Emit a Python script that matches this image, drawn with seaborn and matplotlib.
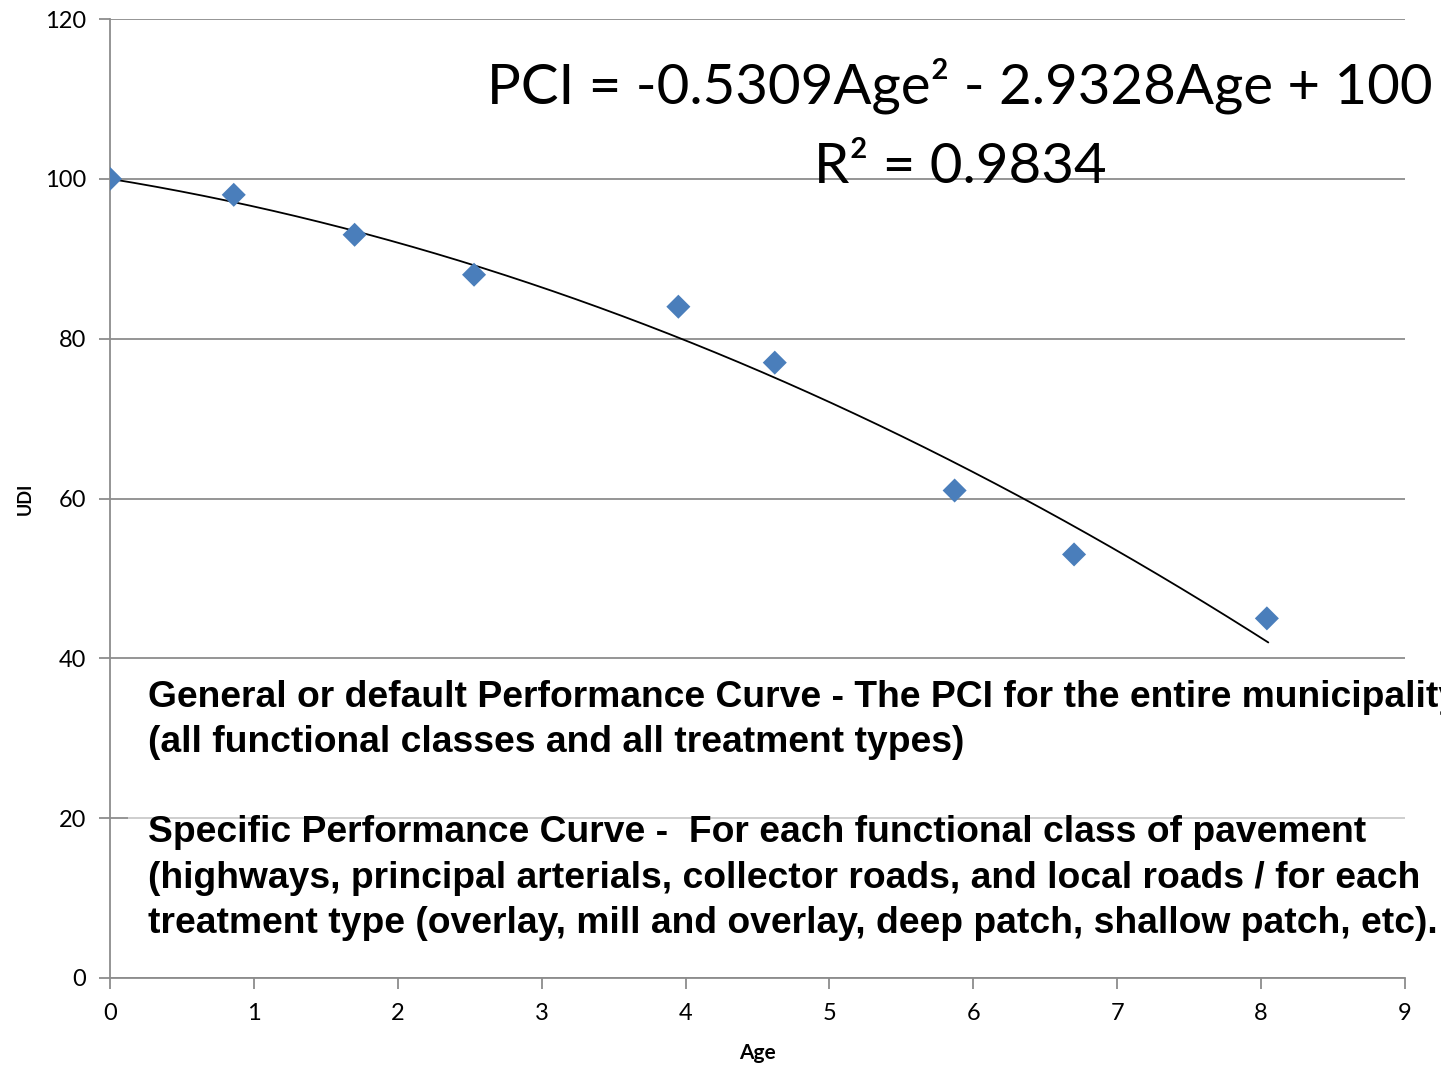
import numpy as np
import pandas as pd
import matplotlib
matplotlib.use("Agg")
import matplotlib.pyplot as plt
import seaborn as sns
from matplotlib.patches import Rectangle

# ---- data ----
age = [0.0, 0.86, 1.70, 2.53, 3.95, 4.62, 5.87, 6.70, 8.04]
udi = [100, 98, 93, 88, 84, 77, 61, 53, 45]
coef_a = -0.5309
coef_b = -2.9328
coef_c = 100.0
fit_end = 8.05
x_ticks = [0, 1, 2, 3, 4, 5, 6, 7, 8, 9]
y_ticks = [0, 20, 40, 60, 80, 100, 120]
eq_line1 = "PCI = -0.5309Age\u00b2 - 2.9328Age + 100"
eq_line2 = "R\u00b2 = 0.9834"
note_lines = [
    "General or default Performance Curve - The PCI for the entire municipality",
    "(all functional classes and all treatment types)",
    "",
    "Specific Performance Curve -  For each functional class of pavement",
    "(highways, principal arterials, collector roads, and local roads / for each",
    "treatment type (overlay, mill and overlay, deep patch, shallow patch, etc).",
]

sns.set_theme(style="white")
plt.rcParams['font.family'] = ['Lato', 'DejaVu Sans']
plt.rcParams['text.color'] = 'black'
plt.rcParams['axes.labelcolor'] = 'black'

W, H = 1441, 1067
fig = plt.figure(figsize=(W / 100, H / 100), dpi=100)
ax = fig.add_axes([110 / W, 1 - 978 / H, (1405 - 110) / W, (978 - 19) / H])

df = pd.DataFrame({"Age": age, "UDI": udi})
xs = np.linspace(0, fit_end, 200)
fit = pd.DataFrame({"Age": xs, "UDI": coef_a * xs ** 2 + coef_b * xs + coef_c})

sns.lineplot(data=fit, x="Age", y="UDI", ax=ax, color="black", linewidth=1.3, zorder=3)
sns.scatterplot(data=df, x="Age", y="UDI", ax=ax, marker="D", s=150, color="#4a7ebb",
                edgecolor="none", zorder=4)

ax.set_xlim(0, 9)
ax.set_ylim(0, 120)
ax.set_xticks(x_ticks)
ax.set_yticks(y_ticks)
ax.grid(axis="y", color="#8c8c8c", linewidth=1.3)
ax.set_axisbelow(True)
for s in ["top", "right"]:
    ax.spines[s].set_visible(False)
for s in ["left", "bottom"]:
    ax.spines[s].set_color("#8c8c8c")
    ax.spines[s].set_linewidth(1.3)
ax.tick_params(axis="both", which="both", direction="out", length=8, width=1.3,
               color="#8c8c8c", labelsize=17, labelcolor="black",
               bottom=True, left=True)
ax.tick_params(axis="y", pad=9)
ax.tick_params(axis="x", pad=10)

ax.set_xlabel("Age", fontsize=15, fontweight="bold", labelpad=14)
ax.set_ylabel("UDI", fontsize=13, fontweight="bold", labelpad=8)

# semi-transparent text box
rect = Rectangle((128 / W, 1 - 950 / H), 1 - 128 / W, (950 - 664) / H,
                 transform=fig.transFigure, facecolor="white", alpha=0.55,
                 edgecolor="none", zorder=2)
fig.patches.append(rect)

fig.text(960 / W, 1 - 104 / H, eq_line1, ha="center", va="baseline", fontsize=40.6)
fig.text(960 / W, 1 - 183 / H, eq_line2, ha="center", va="baseline", fontsize=40.6)

fig.text(148 / W, 1 - 680 / H, "\n".join(note_lines), ha="left", va="top",
         fontsize=26.8, fontweight="bold", family=["Liberation Sans", "DejaVu Sans"],
         linespacing=1.375, multialignment="left", zorder=5)

fig.savefig("out.png", dpi=100)
